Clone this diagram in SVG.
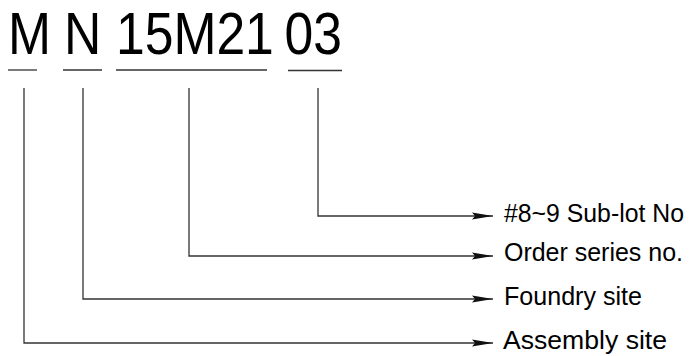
<svg xmlns="http://www.w3.org/2000/svg" width="691" height="356" viewBox="0 0 691 356">
<defs>
<style>
.code{font-family:"Liberation Sans",Arial,sans-serif;font-size:59px;fill:#000}
.lbl{font-family:"Liberation Sans",Arial,sans-serif;font-size:25.5px;fill:#000}
.ul{stroke:#333;stroke-width:1.3;fill:none}
.conn{stroke:#333;stroke-width:1.3;fill:none}
</style>
<marker id="arr" markerUnits="userSpaceOnUse" markerWidth="22" markerHeight="8" refX="21" refY="4" orient="auto">
<path d="M0,0.6 L21,4 L0,7.4 L3,4 Z" fill="#111"/>
</marker>
</defs>
<rect width="691" height="356" fill="#fff"/>
<g id="seg-M">
<text class="code" transform="translate(8,54) scale(0.875,1)">M</text>
<line class="ul" x1="8" y1="70" x2="37" y2="70"/>
</g>
<g id="seg-N">
<text class="code" transform="translate(64,54) scale(0.875,1)">N</text>
<line class="ul" x1="63" y1="70" x2="102" y2="70"/>
</g>
<g id="seg-15M21">
<text class="code" transform="translate(116,54) scale(0.875,1)">15M21</text>
<line class="ul" x1="116" y1="70" x2="267" y2="70"/>
</g>
<g id="seg-03">
<text class="code" transform="translate(284.5,54) scale(0.875,1)">03</text>
<line class="ul" x1="288" y1="70.5" x2="342" y2="70.5"/>
</g>
<g id="connectors">
<path class="conn" d="M318,88 V216 H493" marker-end="url(#arr)"/>
<path class="conn" d="M189,88 V256 H493" marker-end="url(#arr)"/>
<path class="conn" d="M83,88 V299 H493" marker-end="url(#arr)"/>
<path class="conn" d="M24,88 V343 H493" marker-end="url(#arr)"/>
</g>
<g id="lbl-sublot">
<text class="lbl" x="504" y="222" style="font-size:25px" textLength="180" lengthAdjust="spacingAndGlyphs">#8~9 Sub-lot No</text>
</g>
<g id="lbl-order">
<text class="lbl" x="504" y="261" textLength="179" lengthAdjust="spacingAndGlyphs">Order series no.</text>
</g>
<g id="lbl-foundry">
<text class="lbl" x="504" y="305" textLength="138" lengthAdjust="spacingAndGlyphs">Foundry site</text>
</g>
<g id="lbl-assembly">
<text class="lbl" x="503" y="349" textLength="164" lengthAdjust="spacingAndGlyphs">Assembly site</text>
</g>
</svg>
